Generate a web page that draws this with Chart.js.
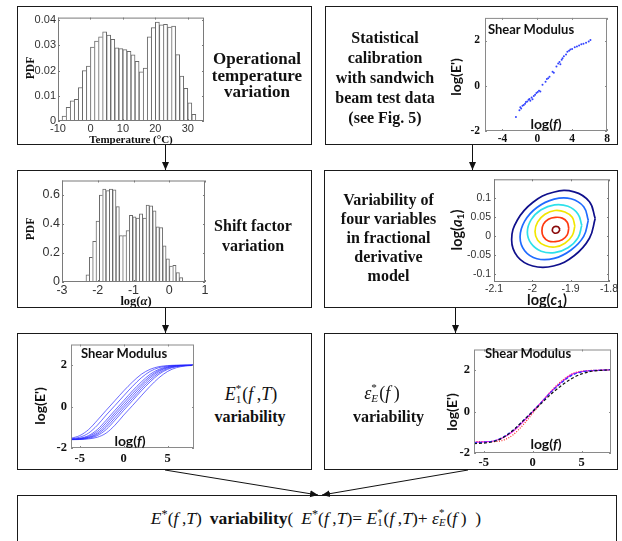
<!DOCTYPE html>
<html>
<head>
<meta charset="utf-8">
<script src="https://cdn.jsdelivr.net/npm/chart.js@4.4.1/dist/chart.umd.min.js"></script>
<style>
  html, body { margin: 0; padding: 0; background: #fff; }
  #page { position: relative; width: 622px; height: 541px; overflow: hidden; background: #fff; }
  .box { position: absolute; border: 1px solid #1a1a1a; box-sizing: border-box; }
  canvas { position: absolute; }
  .t { position: absolute; transform: translate(-50%, -50%); white-space: nowrap; text-align: center; color: #111; }
  .rot { transform: translate(-50%, -50%) rotate(-90deg); }
  .sb { font-family: "Liberation Serif", "Times New Roman", serif; font-weight: bold; }
  .sr { font-family: "Liberation Serif", "Times New Roman", serif; font-weight: normal; }
  .lb { font-family: Lato, "Open Sans", sans-serif; font-weight: bold; }
  .ss { display: inline-block; vertical-align: -0.3em; font-size: 0.62em; line-height: 1; text-align: left; margin: 0 1px 0 0; }
  .ss span { display: block; }
  sub { font-size: 0.7em; vertical-align: -0.25em; line-height: 0; }
  sup { font-size: 0.7em; vertical-align: 0.45em; line-height: 0; }
</style>
</head>
<body>
<div id="page">
  <div class="box" style="left:17px;top:6px;width:295px;height:139px"></div>
  <div class="box" style="left:325px;top:6px;width:293px;height:139px"></div>
  <div class="box" style="left:17px;top:170px;width:295px;height:138px"></div>
  <div class="box" style="left:324px;top:170px;width:294px;height:138px"></div>
  <div class="box" style="left:17px;top:333px;width:295px;height:137px"></div>
  <div class="box" style="left:324px;top:333px;width:294px;height:137px"></div>
  <div class="box" style="left:17px;top:495px;width:600px;height:60px"></div>

  <svg width="622" height="541" style="position:absolute;left:0;top:0">
    <defs>
      <marker id="ah" markerWidth="8" markerHeight="8" refX="8" refY="4" orient="auto" markerUnits="userSpaceOnUse">
        <path d="M0,0.5 L8,4 L0,7.5 z" fill="#111"/>
      </marker>
    </defs>
    <g stroke="#111" stroke-width="1">
      <line x1="165.5" y1="145" x2="165.5" y2="170" marker-end="url(#ah)"/>
      <line x1="472.5" y1="145" x2="472.5" y2="170" marker-end="url(#ah)"/>
      <line x1="165.5" y1="308" x2="165.5" y2="333" marker-end="url(#ah)"/>
      <line x1="455.5" y1="308" x2="455.5" y2="333" marker-end="url(#ah)"/>
      <line x1="165" y1="470" x2="318" y2="495" marker-end="url(#ah)"/>
      <line x1="468" y1="470" x2="322" y2="495" marker-end="url(#ah)"/>
    </g>
  </svg>

  <canvas id="cTemp"></canvas>
  <canvas id="cCal"></canvas>
  <canvas id="cShift"></canvas>
  <canvas id="cCont"></canvas>
  <canvas id="cE1"></canvas>
  <canvas id="cEps"></canvas>

  <!-- axis titles and in-plot notes -->
  <div class="t sb rot" style="left:29.5px;top:67.5px;font-size:11.5px">PDF</div>
  <div class="t sb" style="left:131px;top:139px;font-size:11px">Temperature (°C)</div>
  <div class="t sb rot" style="left:29.5px;top:229px;font-size:11.5px">PDF</div>
  <div class="t sb" style="left:136px;top:301px;font-size:12.5px">log(<i>α</i>)</div>

  <div class="t lb" style="left:531px;top:29px;font-size:13px">Shear Modulus</div>
  <div class="t lb rot" style="left:454.5px;top:77px;font-size:14px">log(E')</div>
  <div class="t lb" style="left:546px;top:123px;font-size:14px">log(<i>f</i>)</div>

  <div class="t lb rot" style="left:455.5px;top:230px;font-size:14.5px">log(<i>a</i><sub>1</sub>)</div>
  <div class="t lb" style="left:547px;top:299px;font-size:14.5px">log(<i>c</i><sub>1</sub>)</div>

  <div class="t lb" style="left:124px;top:353px;font-size:13px">Shear Modulus</div>
  <div class="t lb rot" style="left:38.5px;top:405.5px;font-size:14px">log(E')</div>
  <div class="t lb" style="left:130px;top:440px;font-size:14px">log(<i>f</i>)</div>

  <div class="t lb" style="left:528px;top:353px;font-size:13px">Shear Modulus</div>
  <div class="t lb rot" style="left:451px;top:412px;font-size:14px">log(E')</div>
  <div class="t lb" style="left:546px;top:443px;font-size:14px">log(<i>f</i>)</div>

  <!-- flowchart captions -->
  <div class="t sb" style="left:257px;top:76px;font-size:17px;line-height:16.5px">Operational<br>temperature<br>variation</div>
  <div class="t sb" style="left:385px;top:77.5px;font-size:16px;line-height:20px">Statistical<br>calibration<br>with sandwich<br>beam test data<br>(see Fig. 5)</div>
  <div class="t sb" style="left:253px;top:236px;font-size:16px;line-height:20px">Shift factor<br>variation</div>
  <div class="t sb" style="left:388.5px;top:237.5px;font-size:16px;line-height:19.2px">Variability of<br>four variables<br>in fractional<br>derivative<br>model</div>

  <div class="t sr" style="left:251px;top:394px;font-size:18px"><i>E</i><span class="ss"><span>*</span><span>1</span></span>(<i>f</i>&thinsp;,<i>T</i>)</div>
  <div class="t sb" style="left:250px;top:416.5px;font-size:16px">variability</div>
  <div class="t sr" style="left:382px;top:393px;font-size:18px"><i>ε</i><span class="ss"><span>*</span><span><i>E</i></span></span>(<i>f</i>&thinsp;)</div>
  <div class="t sb" style="left:388.5px;top:417px;font-size:16px">variability</div>

  <div class="t sr" style="left:316px;top:517.5px;font-size:17.5px"><i>E</i><sup>*</sup>(<i>f</i>&thinsp;,<i>T</i>) &thinsp;<b>variability</b>( &thinsp;<i>E</i><sup>*</sup>(<i>f</i>&thinsp;,<i>T</i>)= <i>E</i><span class="ss"><span>*</span><span>1</span></span>(<i>f</i>&thinsp;,<i>T</i>)+ <i>ε</i><span class="ss"><span>*</span><span><i>E</i></span></span>(<i>f</i>&thinsp;) &nbsp;)</div>
</div>

<script>
// ---------- operational temperature histogram ----------
const tempBinCenters = [-8.125, -6.875, -5.625, -4.375, -3.125, -1.875, -0.625, 0.625, 1.875, 3.125,
  4.375, 5.625, 6.875, 8.125, 9.375, 10.625, 11.875, 13.125, 14.375, 15.625, 16.875, 18.125,
  19.375, 20.625, 21.875, 23.125, 24.375, 25.625, 26.875, 28.125, 29.375, 30.625, 31.875];
const tempPdf = [0.0020, 0.0054, 0.0080, 0.0086, 0.0133, 0.0200, 0.0218, 0.0293, 0.0317, 0.0334,
  0.0354, 0.0341, 0.0324, 0.0290, 0.0287, 0.0283, 0.0276, 0.0262, 0.0237, 0.0195,
  0.0210, 0.0334, 0.0370, 0.0392, 0.0381, 0.0383, 0.0372, 0.0376, 0.0263, 0.0178,
  0.0130, 0.0072, 0.0026];
const tempXTicks = [-10, 0, 10, 20, 30];
const tempXLabels = ['-10', '0', '10', '20', '30'];
const tempYTicks = [0, 0.01, 0.02, 0.03, 0.04];
const tempYLabels = ['0', '0.01', '0.02', '0.03', '0.04'];

// ---------- shift factor histogram ----------
const shiftBinCenters = [-2.283, -2.190, -2.096, -2.003, -1.909, -1.816, -1.723, -1.629, -1.536, -1.442,
  -1.349, -1.256, -1.162, -1.069, -0.975, -0.882, -0.789, -0.695, -0.602, -0.508,
  -0.415, -0.322, -0.228, -0.135, -0.041, 0.052, 0.145, 0.239, 0.332];
const shiftPdf = [0.05, 0.17, 0.28, 0.42, 0.60, 0.64, 0.63, 0.64, 0.635, 0.52,
  0.32, 0.32, 0.355, 0.46, 0.45, 0.44, 0.47, 0.44, 0.53, 0.525,
  0.49, 0.38, 0.375, 0.25, 0.16, 0.11, 0.115, 0.065, 0.03];
const shiftXTicks = [-3, -2, -1, 0, 1];
const shiftXLabels = ['-3', '-2', '-1', '0', '1'];
const shiftYTicks = [0, 0.2, 0.4, 0.6];
const shiftYLabels = ['0', '0.2', '0.4', '0.6'];

// ---------- sandwich beam test data (shear modulus) ----------
const testLogF = [-2.45, -2.05, -1.95, -1.85, -1.70, -1.55, -1.40, -1.30, -1.15, -1.00,
  -0.90, -0.80, -0.65, -0.55, -0.40, -0.25, -0.10, 0.05, 0.20, 0.35,
  0.60, 0.95, 1.10, 1.25, 1.40, 1.75, 1.90, 2.20, 2.40, 2.55,
  2.65, 2.80, 2.90, 3.05, 3.30, 3.45, 3.65, 3.80, 4.00, 4.30,
  4.55, 4.80, 5.05, 5.30, 5.60, 5.90, 6.10];
const testLogE = [-1.38, -1.08, -0.95, -1.00, -0.88, -0.85, -0.80, -0.72, -0.70, -0.62,
  -0.58, -0.66, -0.52, -0.60, -0.45, -0.40, -0.32, -0.28, -0.22, -0.25,
  0.05, 0.18, 0.30, 0.33, 0.40, 0.62, 0.58, 0.85, 0.98, 1.05,
  0.95, 1.15, 1.22, 1.30, 1.38, 1.50, 1.55, 1.60, 1.62, 1.70,
  1.74, 1.78, 1.84, 1.86, 1.90, 1.96, 2.02];

// shared axes of the shear modulus panels
const modXTicks = [-5, 0, 5];
const modXLabels = ['-5', '0', '5'];
const calXTicks = [-4, 0, 4, 8];
const calXLabels = ['-4', '0', '4', '8'];
const modYTicks = [-2, 0, 2];
const modYLabels = ['-2', '0', '2'];

// ---------- joint density contours of log(c1), log(a1) ----------
const contourNavy = [[-1.836, 0.047], [-1.851, -0.005], [-1.891, -0.051], [-1.945, -0.078], [-1.999, -0.078], [-2.039, -0.053],
  [-2.054, -0.009], [-2.039, 0.043], [-1.999, 0.089], [-1.945, 0.116], [-1.891, 0.117], [-1.851, 0.091]];
const contourBlue = [[-1.854, 0.042], [-1.866, 0.000], [-1.899, -0.036], [-1.943, -0.058], [-1.988, -0.059], [-2.020, -0.038],
  [-2.032, -0.002], [-2.020, 0.040], [-1.988, 0.076], [-1.943, 0.098], [-1.899, 0.099], [-1.866, 0.078]];
const contourCyan = [[-1.871, 0.029], [-1.881, -0.004], [-1.907, -0.030], [-1.942, -0.043], [-1.977, -0.039], [-2.003, -0.019],
  [-2.013, 0.011], [-2.003, 0.044], [-1.977, 0.070], [-1.942, 0.083], [-1.907, 0.079], [-1.881, 0.059]];
const contourYellow = [[-1.889, 0.027], [-1.896, 0.002], [-1.915, -0.018], [-1.941, -0.028], [-1.967, -0.024], [-1.986, -0.010],
  [-1.993, 0.013], [-1.986, 0.038], [-1.967, 0.058], [-1.941, 0.068], [-1.915, 0.064], [-1.896, 0.050]];
const contourRed = [[-1.905, 0.021], [-1.909, 0.004], [-1.922, -0.009], [-1.940, -0.014], [-1.958, -0.012], [-1.971, -0.001],
  [-1.975, 0.015], [-1.971, 0.032], [-1.958, 0.045], [-1.940, 0.050], [-1.922, 0.048], [-1.909, 0.037]];
const contourDarkRed = [[-1.928, 0.018], [-1.933, 0.010], [-1.943, 0.009], [-1.948, 0.016], [-1.943, 0.025], [-1.933, 0.025]];
const contXTicks = [-2.1, -2.0, -1.9, -1.8];
const contXLabels = ['-2.1', '-2', '-1.9', '-1.8'];
const contYTicks = [-0.1, -0.05, 0, 0.05, 0.1];
const contYLabels = ['-0.1', '-0.05', '0', '0.05', '0.1'];

// ---------- E1*(f,T) master curves at sampled temperatures ----------
const logF = [-6, -5, -4, -3, -2, -1, 0, 1, 2, 3, 4, 5, 6, 7, 8];
const e1Curves = [
  [-1.53, -1.40, -1.11, -0.66, -0.18, 0.29, 0.76, 1.19, 1.56, 1.80, 1.93, 1.98, 2.00, 2.00, 2.00],
  [-1.56, -1.48, -1.28, -0.90, -0.41, 0.05, 0.52, 0.98, 1.39, 1.70, 1.88, 1.96, 1.99, 2.00, 2.00],
  [-1.58, -1.53, -1.40, -1.11, -0.66, -0.18, 0.29, 0.76, 1.19, 1.56, 1.80, 1.93, 1.98, 2.00, 2.00],
  [-1.58, -1.55, -1.44, -1.20, -0.78, -0.30, 0.17, 0.64, 1.08, 1.47, 1.75, 1.90, 1.97, 1.99, 2.00],
  [-1.59, -1.56, -1.48, -1.28, -0.90, -0.41, 0.05, 0.52, 0.98, 1.39, 1.70, 1.88, 1.96, 1.99, 2.00],
  [-1.59, -1.57, -1.50, -1.34, -1.00, -0.54, -0.06, 0.40, 0.87, 1.29, 1.63, 1.84, 1.94, 1.98, 2.00],
  [-1.59, -1.58, -1.53, -1.40, -1.11, -0.66, -0.18, 0.29, 0.76, 1.19, 1.56, 1.80, 1.93, 1.98, 2.00],
  [-1.60, -1.59, -1.56, -1.48, -1.28, -0.90, -0.41, 0.05, 0.52, 0.98, 1.39, 1.70, 1.88, 1.96, 1.99]
];

// ---------- model error epsilon_E*(f) realisations ----------
const epsBlack = [-1.55, -1.52, -1.45, -1.25, -0.90, -0.45, 0.00, 0.45, 0.90, 1.28, 1.60, 1.82, 1.95, 1.99, 2.02];
const epsBlue = [-1.50, -1.48, -1.42, -1.22, -0.90, -0.45, 0.02, 0.50, 1.00, 1.42, 1.75, 1.92, 1.98, 2.00, 2.02];
const epsMagenta = [-1.48, -1.46, -1.42, -1.25, -0.95, -0.50, 0.00, 0.52, 1.02, 1.45, 1.80, 1.93, 1.98, 2.00, 2.02];
const epsRed = [-1.45, -1.45, -1.45, -1.38, -1.12, -0.65, -0.08, 0.50, 1.05, 1.50, 1.82, 1.95, 1.99, 2.00, 2.02];

// ================= drawing =================
Chart.defaults.animation = false;
Chart.defaults.responsive = false;
Chart.defaults.maintainAspectRatio = false;
Chart.defaults.devicePixelRatio = 1;
Chart.defaults.plugins.legend.display = false;
Chart.defaults.plugins.tooltip.enabled = false;

// box around the plot area with short inward ticks on all four sides
const framePlugin = {
  id: 'frame',
  afterDatasetsDraw(chart, args, opts) {
    const { ctx, chartArea: a, scales } = chart;
    ctx.save();
    ctx.strokeStyle = opts.color || '#777';
    ctx.lineWidth = 1;
    ctx.strokeRect(a.left + 0.5, a.top + 0.5, a.right - a.left - 1, a.bottom - a.top - 1);
    const L = opts.tick == null ? 3 : opts.tick;
    ctx.beginPath();
    scales.x.ticks.forEach(t => {
      const p = Math.round(scales.x.getPixelForValue(t.value)) + 0.5;
      ctx.moveTo(p, a.bottom); ctx.lineTo(p, a.bottom - L);
      ctx.moveTo(p, a.top); ctx.lineTo(p, a.top + L);
    });
    scales.y.ticks.forEach(t => {
      const p = Math.round(scales.y.getPixelForValue(t.value)) + 0.5;
      ctx.moveTo(a.left, p); ctx.lineTo(a.left + L, p);
      ctx.moveTo(a.right, p); ctx.lineTo(a.right - L, p);
    });
    ctx.stroke();
    ctx.restore();
  }
};
Chart.register(framePlugin);

function axis(min, max, ticks, labels, font, color, padding) {
  return {
    type: 'linear', min, max, offset: false,
    grid: { display: false, drawTicks: false },
    border: { display: false },
    afterBuildTicks: s => { s.ticks = ticks.map(v => ({ value: v })); },
    ticks: { font, color, padding, autoSkip: false, maxRotation: 0, minRotation: 0,
             callback: (v, i) => labels[i] }
  };
}

function makeChart(id, area, pad, cfg) {
  const cv = document.getElementById(id);
  const W = area.r - area.l + pad.l + pad.r;
  const H = area.b - area.t + pad.t + pad.b;
  cv.width = W; cv.height = H;
  cv.style.left = (area.l - pad.l) + 'px';
  cv.style.top = (area.t - pad.t) + 'px';
  cv.style.width = W + 'px';
  cv.style.height = H + 'px';
  cfg.options.layout = { padding: { top: pad.t, right: pad.r, left: 0, bottom: 0 } };
  cfg.options.scales.x.afterFit = s => { s.height = pad.b; };
  cfg.options.scales.y.afterFit = s => { s.width = pad.l; };
  return new Chart(cv, cfg);
}

const sansTick = size => ({ family: 'Liberation Sans, Arial, sans-serif', size });
const serifTick = size => ({ family: 'Liberation Serif, Times New Roman, serif', size, weight: 'bold' });

function histBorder(values) {
  return ctx => {
    const i = ctx.dataIndex;
    const last = i === values.length - 1 || values[i + 1] < values[i];
    return { left: 1, top: 1, right: last ? 1 : 0, bottom: 0 };
  };
}

// temperature histogram
makeChart('cTemp', { l: 58, t: 17, r: 204, b: 121 }, { l: 45, t: 8, r: 10, b: 16 }, {
  type: 'bar',
  data: { datasets: [{
    data: tempBinCenters.map((x, i) => ({ x, y: tempPdf[i] })),
    backgroundColor: '#fff', borderColor: '#6a6a6a', borderWidth: histBorder(tempPdf),
    borderSkipped: false, categoryPercentage: 1, barPercentage: 1
  }] },
  options: {
    plugins: { frame: { color: '#7a7a7a', tick: 2 } },
    scales: {
      x: axis(-10, 35, tempXTicks, tempXLabels, sansTick(11), '#333', 1),
      y: axis(0, 0.041, tempYTicks, tempYLabels, sansTick(11), '#333', 2)
    }
  }
});

// shift factor histogram
makeChart('cShift', { l: 62, t: 179, r: 205, b: 282 }, { l: 45, t: 8, r: 10, b: 16 }, {
  type: 'bar',
  data: { datasets: [{
    data: shiftBinCenters.map((x, i) => ({ x, y: shiftPdf[i] })),
    backgroundColor: '#fff', borderColor: '#6a6a6a', borderWidth: histBorder(shiftPdf),
    borderSkipped: false, categoryPercentage: 1, barPercentage: 1
  }] },
  options: {
    plugins: { frame: { color: '#7a7a7a', tick: 2 } },
    scales: {
      x: axis(-3, 1, shiftXTicks, shiftXLabels, sansTick(12.5), '#333', 1),
      y: axis(0, 0.7, shiftYTicks, shiftYLabels, sansTick(12.5), '#333', 2)
    }
  }
});

// calibration test data
makeChart('cCal', { l: 485, t: 14, r: 607, b: 131 }, { l: 20, t: 8, r: 12, b: 16 }, {
  type: 'scatter',
  data: { datasets: [{
    data: testLogF.map((x, i) => ({ x, y: testLogE[i] })),
    pointRadius: 1.0, pointBorderWidth: 0, backgroundColor: '#3344ff'
  }] },
  options: {
    plugins: { frame: { color: '#8a8a8a', tick: 2 } },
    scales: {
      x: axis(-6, 8, calXTicks, calXLabels, serifTick(11.5), '#111', 1),
      y: axis(-2, 3, modYTicks, modYLabels, serifTick(11.5), '#111', 5)
    }
  }
});

// contour lines
const contourSets = [
  [contourNavy, '#10108c'], [contourBlue, '#1f6bff'], [contourCyan, '#2ee0ea'],
  [contourYellow, '#f2e600'], [contourRed, '#ff3a10'], [contourDarkRed, '#8a0a0a']
];
makeChart('cCont', { l: 494, t: 178, r: 609, b: 282 }, { l: 38, t: 8, r: 12, b: 14 }, {
  type: 'scatter',
  data: { datasets: contourSets.map(([pts, col]) => ({
    data: pts.concat([pts[0]]).map(p => ({ x: p[0], y: p[1] })),
    showLine: true, pointRadius: 0, borderColor: col, borderWidth: 1.7, tension: 0.42
  })) },
  options: {
    plugins: { frame: { color: '#7a7a7a', tick: 2 } },
    scales: {
      x: axis(-2.1, -1.8, contXTicks, contXLabels, sansTick(10.5), '#333', 1),
      y: axis(-0.12, 0.15, contYTicks, contYLabels, sansTick(10.5), '#333', 3)
    }
  }
});

// E1*(f,T) curves
makeChart('cE1', { l: 71, t: 341, r: 194, b: 448 }, { l: 20, t: 8, r: 10, b: 18 }, {
  type: 'scatter',
  data: { datasets: e1Curves.map(c => ({
    data: logF.map((x, i) => ({ x, y: c[i] })),
    showLine: true, pointRadius: 0, borderColor: 'rgba(35,35,255,0.85)', borderWidth: 0.8,
    cubicInterpolationMode: 'monotone'
  })) },
  options: {
    plugins: { frame: { color: '#8a8a8a', tick: 2 } },
    scales: {
      x: axis(-6, 8, modXTicks, modXLabels, serifTick(12.5), '#111', 3),
      y: axis(-2, 3, modYTicks, modYLabels, serifTick(12.5), '#111', 4)
    }
  }
});

// epsilon_E*(f) curves
const epsSets = [
  [epsBlack, '#111', [3, 2]], [epsBlue, '#2233ff', [3, 2]],
  [epsMagenta, '#e020e0', []], [epsRed, '#ff2020', [1, 1.5]]
];
makeChart('cEps', { l: 474, t: 346, r: 611, b: 453 }, { l: 20, t: 8, r: 8, b: 18 }, {
  type: 'scatter',
  data: { datasets: epsSets.map(([ys, col, dash]) => ({
    data: logF.map((x, i) => ({ x, y: ys[i] })),
    showLine: true, pointRadius: 0, borderColor: col, borderWidth: 1.2, borderDash: dash,
    cubicInterpolationMode: 'monotone'
  })) },
  options: {
    plugins: { frame: { color: '#8a8a8a', tick: 2 } },
    scales: {
      x: axis(-6, 8, modXTicks, modXLabels, serifTick(12.5), '#111', 2),
      y: axis(-2, 3, modYTicks, modYLabels, serifTick(12.5), '#111', 4)
    }
  }
});
</script>
</body>
</html>
